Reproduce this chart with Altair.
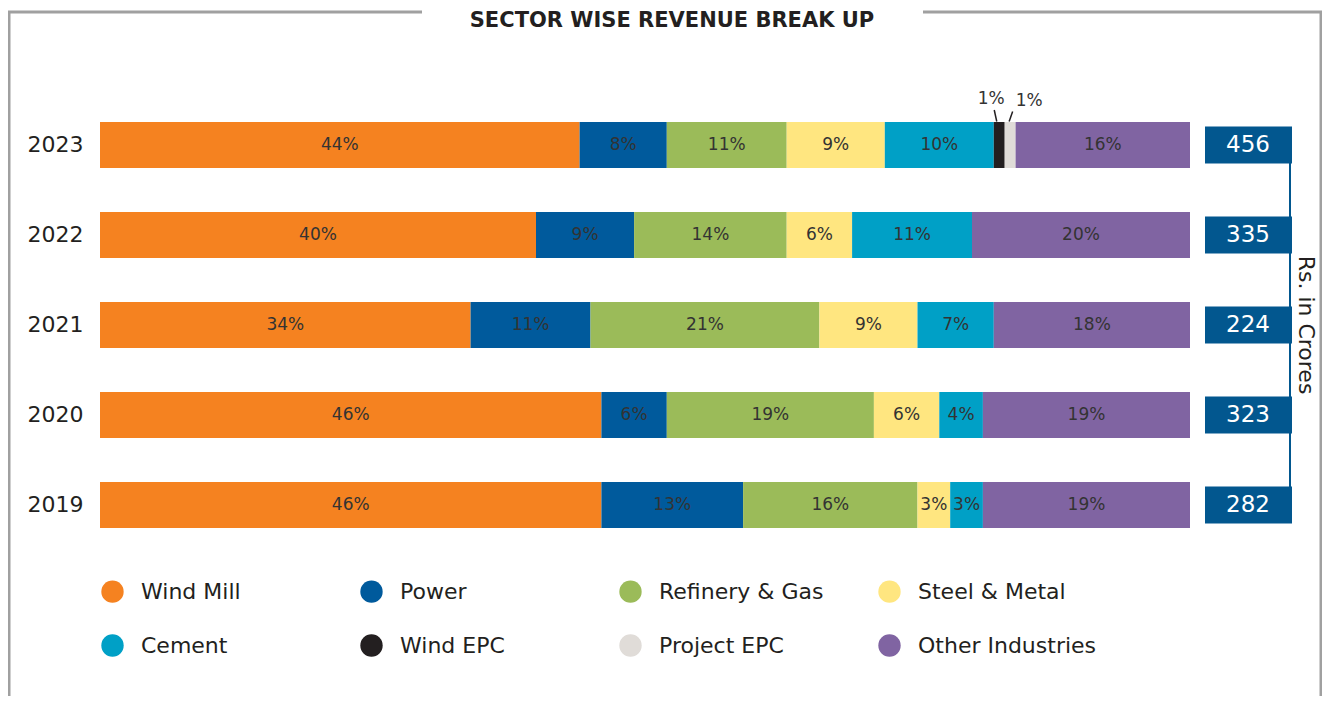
import altair as alt
import pandas as pd

# ---------------- data ----------------
years = ["2023", "2022", "2021", "2020", "2019"]
sectors = ["Wind Mill", "Power", "Refinery & Gas", "Steel & Metal",
           "Cement", "Wind EPC", "Project EPC", "Other Industries"]
colors = ["#F58220", "#005A9C", "#9BBB59", "#FFE680",
          "#00A0C6", "#231F20", "#E0DCD8", "#8064A2"]

wind_mill = [44, 40, 34, 46, 46]
power = [8, 9, 11, 6, 13]
refinery_gas = [11, 14, 21, 19, 16]
steel_metal = [9, 6, 9, 6, 3]
cement = [10, 11, 7, 4, 3]
wind_epc = [1, 0, 0, 0, 0]
project_epc = [1, 0, 0, 0, 0]
other_industries = [16, 20, 18, 19, 19]

totals = [456, 335, 224, 323, 282]

title_text = "SECTOR WISE REVENUE BREAK UP"
unit_text = "Rs. in Crores"

# ---------------- build tables ----------------
series = [wind_mill, power, refinery_gas, steel_metal, cement,
          wind_epc, project_epc, other_industries]
rows = []
for yi, yr in enumerate(years):
    start = 0
    for si, sec in enumerate(sectors):
        v = series[si][yi]
        rows.append({"year": yr, "sector": sec, "order": si, "value": v,
                     "start": start, "end": start + v, "mid": start + v / 2,
                     "label": f"{v}%"})
        start += v
df = pd.DataFrame(rows)
df_bars = df[df["value"] > 0]
small = df["sector"].isin(["Wind EPC", "Project EPC"])
df_in = df[(df["value"] > 0) & ~small]
df_out = df[(df["value"] > 0) & small]
df_tot = pd.DataFrame({"year": years, "total": [str(t) for t in totals]})

FONT = "DejaVu Sans"
TXT = "#231f20"
NAVY = "#02578f"
FRAME = "#a0a0a0"

ysc = alt.Scale(domain=years, paddingInner=0, paddingOuter=0)
yenc = alt.Y("year:N", sort=years, scale=ysc,
             axis=alt.Axis(title=None, domain=False, ticks=False,
                           labelFontSize=22, labelPadding=17,
                           labelColor=TXT, labelFont=FONT))
xsc = alt.Scale(domain=[0, 100], nice=False, zero=True)

bars = alt.Chart(df_bars).mark_bar(size=46).encode(
    x=alt.X("start:Q", scale=xsc, axis=None),
    x2="end:Q",
    y=yenc,
    color=alt.Color("sector:N", sort=sectors,
                    scale=alt.Scale(domain=sectors, range=colors),
                    legend=alt.Legend(orient="none", legendX=1, legendY=480,
                                      columns=4, direction="horizontal",
                                      gridAlign="all", symbolType="circle",
                                      symbolSize=500, symbolStrokeWidth=0,
                                      labelFontSize=22, labelFont=FONT,
                                      labelColor=TXT, labelOffset=17,
                                      columnPadding=40, rowPadding=31,
                                      title=None, labelLimit=400, padding=0)),
)

labels_in = alt.Chart(df_in).mark_text(
    font=FONT, fontSize=17, color="#333333", baseline="middle", align="center"
).encode(x=alt.X("mid:Q", scale=xsc), y=yenc, text="label:N")

lab_wepc = alt.Chart(df_out[df_out["sector"] == "Wind EPC"]).mark_text(
    font=FONT, fontSize=17, color="#333333", baseline="middle", align="center",
    dx=-8, dy=-46
).encode(x=alt.X("mid:Q", scale=xsc), y=yenc, text="label:N")

lab_pepc = alt.Chart(df_out[df_out["sector"] == "Project EPC"]).mark_text(
    font=FONT, fontSize=17, color="#333333", baseline="middle", align="center",
    dx=19, dy=-44
).encode(x=alt.X("mid:Q", scale=xsc), y=yenc, text="label:N")

lead_wepc = alt.Chart(df_out[df_out["sector"] == "Wind EPC"]).mark_rule(
    color=TXT, strokeWidth=1.5, xOffset=-5, x2Offset=-2.5
).encode(x=alt.X("mid:Q", scale=xsc), x2="mid:Q",
         y=alt.value(10), y2=alt.value(21.5))

lead_pepc = alt.Chart(df_out[df_out["sector"] == "Project EPC"]).mark_rule(
    color=TXT, strokeWidth=1.5, xOffset=2.5, x2Offset=-1
).encode(x=alt.X("mid:Q", scale=xsc), x2="mid:Q",
         y=alt.value(11.5), y2=alt.value(21.5))

boxes = alt.Chart(df_tot).mark_bar(size=37, color=NAVY).encode(
    x=alt.value(1105), x2=alt.value(1192), y=yenc)

connector = alt.Chart(df_tot.head(1)).mark_rule(color=NAVY, strokeWidth=2).encode(
    x=alt.value(1190), y=alt.value(45), y2=alt.value(405))

box_text = alt.Chart(df_tot).mark_text(
    font=FONT, fontSize=23, color="white", baseline="middle", align="center"
).encode(x=alt.value(1148), y=yenc, text="total:N")

unit = alt.Chart(pd.DataFrame({"t": [unit_text]})).mark_text(
    font=FONT, fontSize=22, color=TXT, angle=90, baseline="middle", align="center"
).encode(x=alt.value(1206), y=alt.value(225), text="t:N")

title = alt.Chart(pd.DataFrame({"t": [title_text]})).mark_text(
    font=FONT, fontSize=21, fontWeight="bold", color=TXT,
    baseline="middle", align="center"
).encode(x=alt.value(572), y=alt.value(-79), text="t:N")

one = pd.DataFrame({"k": [0]})
def frame_rule(x, x2, y, y2):
    return alt.Chart(one).mark_rule(color=FRAME, strokeWidth=3).encode(
        x=alt.value(x), x2=alt.value(x2), y=alt.value(y), y2=alt.value(y2))

frame = [
    frame_rule(-91, -91, -88, 600),
    frame_rule(1221, 1221, -88, 600),
    frame_rule(-92.5, 322, -88, -88),
    frame_rule(823, 1222.5, -88, -88),
]

chart = alt.layer(
    *frame, bars, labels_in, lab_wepc, lab_pepc, lead_wepc, lead_pepc,
    connector, boxes, box_text, unit, title
).properties(
    width=1090, height=450,
    autosize=alt.AutoSizeParams(type="none"),
    padding={"left": 92, "top": 92, "right": 132, "bottom": 146},
).configure(font=FONT).configure_view(strokeWidth=0, stroke="transparent")

chart.save("out.html", embed_options={"renderer": "svg", "actions": False})
